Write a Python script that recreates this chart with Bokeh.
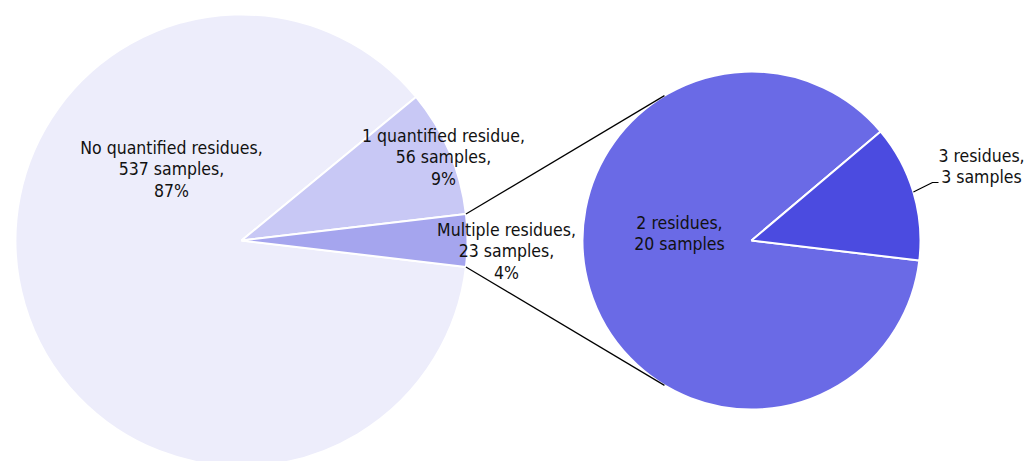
import math
from bokeh.plotting import figure
from bokeh.models import Range1d
from bokeh.core.properties import value
from bokeh.embed import file_html
from bokeh.resources import INLINE

# ---- data ----
main_labels = ["No quantified residues", "1 quantified residue", "Multiple residues"]
main_counts = [537, 56, 23]
main_colors = ["#EDEDFB", "#C8C8F5", "#A5A5EE"]

sub_labels = ["2 residues", "3 residues"]
sub_counts = [20, 3]
sub_colors = ["#6A6AE6", "#4B4BE0"]

FONT = "DejaVu Sans Condensed"
FS = "17.5px"
LH = 1.08

W, H = 1027, 461
p = figure(width=W, height=H, output_backend="svg", toolbar_location=None,
           x_range=Range1d(0, W), y_range=Range1d(-H, 0),
           min_border=0, outline_line_color=None, background_fill_color="white")
p.axis.visible = False
p.grid.visible = False

# main pie geometry
cx1, cy1, r1 = 241, -240, 226
total = sum(main_counts)
frac = [c / total for c in main_counts]
mult_half = frac[2] * 180.0
a_mult_s, a_mult_e = -mult_half, mult_half
a_one_s, a_one_e = mult_half, mult_half + frac[1] * 360
a_no_s, a_no_e = a_one_e, 360 - mult_half
starts = [a_no_s, a_one_s, a_mult_s]
ends = [a_no_e, a_one_e, a_mult_e]
for s, e, col in zip(starts, ends, main_colors):
    p.wedge(x=[cx1], y=[cy1], radius=r1, start_angle=[math.radians(s)], end_angle=[math.radians(e)],
            fill_color=col, line_color="white", line_width=2)

# sub pie
cx2, cy2, r2 = 751, -240, 169
sub_total = sum(sub_counts)
s3 = -6.8
e3 = s3 + sub_counts[1] / sub_total * 360
sub_starts = [e3, s3]
sub_ends = [s3 + 360, e3]
for s, e, col in zip(sub_starts, sub_ends, sub_colors):
    p.wedge(x=[cx2], y=[cy2], radius=r2, start_angle=[math.radians(s)], end_angle=[math.radians(e)],
            fill_color=col, line_color="white", line_width=2)

# connector lines
for sign in (1, -1):
    ax = cx1 + r1 * math.cos(math.radians(mult_half))
    ay = cy1 + sign * r1 * math.sin(math.radians(mult_half))
    bx = cx2 + r2 * math.cos(math.radians(121))
    by = cy2 + sign * r2 * math.sin(math.radians(121))
    p.line([ax, bx], [ay, by], line_color="black", line_width=1.2)

# leader line for 3 residues
mid = math.radians((s3 + e3) / 2)
lx0, ly0 = cx2 + r2 * math.cos(mid), cy2 + r2 * math.sin(mid)
p.line([lx0, 932, 938], [ly0, -182, -182], line_color="black", line_width=1.2)

pct = [round(c / total * 100) for c in main_counts]
texts = [f"{main_labels[i]},\n{main_counts[i]} samples,\n{pct[i]}%" for i in range(3)]
tx = [171, 443, 506]
ty = [-169, -157, -251]
p.text(x=tx, y=ty, text=texts, text_align="center", text_baseline="middle",
       text_font=value(FONT), text_font_size=FS, text_color="#111111", text_line_height=LH)

sub_texts = [f"{sub_labels[i]},\n{sub_counts[i]} samples" for i in range(2)]
p.text(x=[679, 981], y=[-233, -166], text=sub_texts, text_align="center", text_baseline="middle",
       text_font=value(FONT), text_font_size=FS, text_color="#111111", text_line_height=LH)

open("out.html", "w").write(file_html(p, INLINE))
